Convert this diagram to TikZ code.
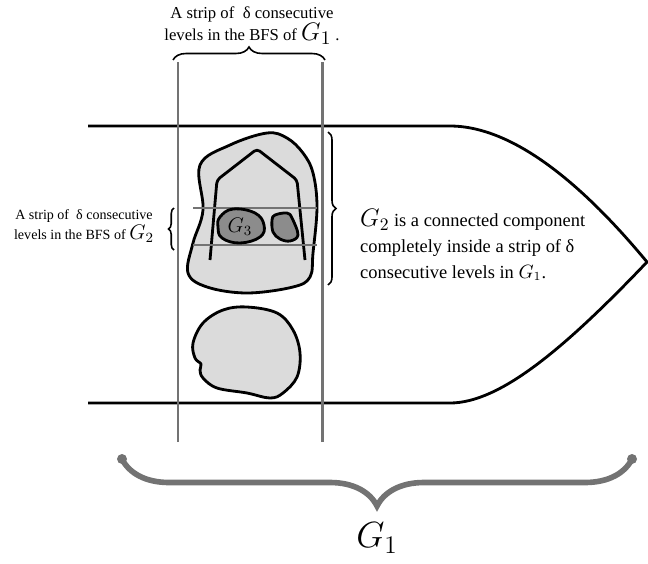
\documentclass[tikz,border=0pt]{standalone}
\usepackage{fontspec}
\setmainfont{Liberation Serif}
\usetikzlibrary{decorations.pathreplacing, calc}

\begin{document}
\begin{tikzpicture}[
    x=0.2mm, y=0.2mm,
    outline/.style={draw=black, line width=1.6pt, line join=round},
    levelline/.style={draw=black!55, line width=1.7pt},
    lightblob/.style={outline, fill=black!14},
    darkblob/.style={outline, fill=black!45},
    thinbrace/.style={decorate, draw=black, line width=0.9pt},
    bigbrace/.style={decorate, draw=black!55, line width=3.2pt,
        decoration={brace, mirror, amplitude=9.4mm}},
    smalltext/.style={font=\fontsize{8}{11.3}\selectfont, align=center},
    midtext/.style={font=\fontsize{9.5}{12.5}\selectfont, align=center},
    bigtext/.style={font=\fontsize{10.5}{14.7}\selectfont, align=left},
]
\useasboundingbox (0,0) rectangle (648,563);

% ===== Outer graph G1 (bullet shape) =====
\draw[outline] (88,437) -- (450,437)
    .. controls (500,437) and (565,400) .. (647,301)
    .. controls (565,215) and (500,160) .. (450,160) -- (88,160);

% Strip of levels in the BFS of G1
\foreach \x in {178, 322} {
    \draw[levelline] (\x,121) -- (\x,501);
}

% Component G2 (upper blob)
\draw[lightblob] plot[smooth cycle, tension=0.6] coordinates {
    (200,398) (230,418) (267,430) (287,425) (303,410) (313,390) (317,356)
    (313,310) (310,286) (293,276) (247,270) (207,276) (188,290) (193,320) (203,353)};

% Lower blob
\draw[lightblob] plot[smooth cycle, tension=0.6] coordinates {
    (193,220) (203,240) (223,253) (247,256) (277,250) (293,233) (300,210)
    (297,186) (283,170) (270,165) (247,170) (217,175) (203,185) (200,193) (201,199) (195,205)};

% Inner BFS tree of G2
\draw[outline, rounded corners=2pt] (210,303) -- (217,383) -- (257,414) -- (297,383) -- (305,303);

% Strip of levels in the BFS of G2
\foreach \y in {355, 318} {
    \draw[levelline] (193,\y) -- (317,\y);
}

% Component G3 and its neighbour
\draw[darkblob] plot[smooth cycle, tension=0.7] coordinates {
    (220,346) (233,354) (255,350) (264,338) (260,326) (240,320) (222,325) (218,336)};
\node[font=\fontsize{12}{12}\selectfont] (gthree) at (240,336) {$G_3$};
\draw[darkblob] plot[smooth cycle, tension=0.6] coordinates {
    (275,348) (287,350) (292,345) (298,328) (290,322) (280,324) (273,331) (272,343)};

% Braces
\draw[thinbrace, decoration={brace, amplitude=2.6mm}] (173,503) -- (325,503);
\draw[thinbrace, decoration={brace, amplitude=1.1mm}] (174,313) -- (174,355);
\draw[thinbrace, decoration={brace, amplitude=1.6mm}] (328,431) -- (328,278);
\draw[bigbrace] (122,104) -- (632,104);
\foreach \x in {122, 632} {
    \fill[black!55] (\x,104) circle (5);
}

% Labels
\node[midtext] (toplabel) at (252,537)
    {A strip of \ δ consecutive\\levels in the BFS of {\fontsize{15}{15}\selectfont$G_1$} .};
\node[smalltext] (leftlabel) at (84,337)
    {A strip of \ δ consecutive\\levels in the BFS of {\fontsize{12}{12}\selectfont$G_2$}};
\node[bigtext, anchor=west] (rightlabel) at (354,318)
    {{\fontsize{14}{14}\selectfont$G_2$} is a connected component\\completely inside a strip of δ\\consecutive levels in $G_1$.};
\node[font=\fontsize{20}{20}\selectfont] (gone) at (377,25) {$G_1$};

\end{tikzpicture}
\end{document}
